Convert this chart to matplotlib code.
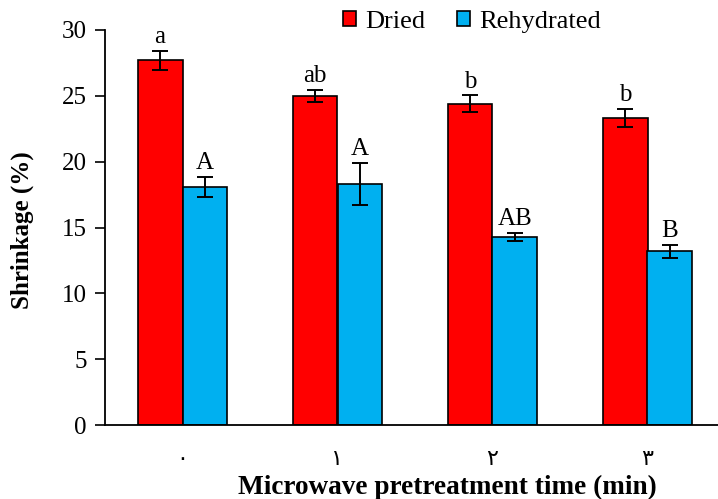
import matplotlib
matplotlib.use("Agg")
import matplotlib.pyplot as plt
import numpy as np

categories = ["٠", "١", "٢", "٣"]
dried = [27.7, 25.0, 24.4, 23.3]
dried_err = [0.7, 0.45, 0.65, 0.7]
rehydrated = [18.1, 18.3, 14.3, 13.2]
rehydrated_err = [0.75, 1.6, 0.3, 0.48]
dried_letters = ["a", "ab", "b", "b"]
rehyd_letters = ["A", "A", "AB", "B"]

plt.rcParams['font.family'] = ['Liberation Serif', 'DejaVu Serif']

W, H = 718, 499
fig = plt.figure(figsize=(W/100, H/100), dpi=100)
ax = fig.add_axes([105/W, 1 - 425/H, 620/W, (425 - 30)/H])

x = np.arange(len(categories))
w = 0.29
ek = dict(ecolor='black', elinewidth=1.4, capsize=5.5, capthick=1.4)
ax.bar(x - w/2, dried, w, yerr=dried_err, color='#FF0000', edgecolor='black',
       linewidth=1.2, label='Dried', error_kw=ek)
ax.bar(x + w/2, rehydrated, w, yerr=rehydrated_err, color='#00B0F0', edgecolor='black',
       linewidth=1.2, label='Rehydrated', error_kw=ek)

for i in range(len(categories)):
    ax.text(x[i] - w/2, dried[i] + dried_err[i] + 0.2, dried_letters[i],
            ha='center', va='bottom', fontsize=18)
    ax.text(x[i] + w/2, rehydrated[i] + rehydrated_err[i] + 0.2, rehyd_letters[i],
            ha='center', va='bottom', fontsize=18)

ax.set_xlim(-0.5, 3.5)
ax.set_ylim(0, 30)
ax.set_yticks([0, 5, 10, 15, 20, 25, 30])
ax.tick_params(axis='y', labelsize=18, direction='out', length=7, width=1.2, pad=6)
ax.set_xticks(x)
ax.set_xticklabels(categories, fontsize=16, family=['DejaVu Sans'])
ax.tick_params(axis='x', length=0, pad=17)
for s in ['top', 'right']:
    ax.spines[s].set_visible(False)
ax.spines['left'].set_linewidth(1.3)
ax.spines['bottom'].set_linewidth(1.3)

fig.text(22/W, 1 - 230/H, 'Shrinkage (%)', fontsize=18, fontweight='bold',
         rotation=90, ha='center', va='center')
fig.text(447/W, 1 - 487/H, 'Microwave pretreatment time (min)', fontsize=19.6,
         fontweight='bold', ha='center', va='center')

leg = fig.legend(loc='center', bbox_to_anchor=(472/W, 1 - 22/H), ncol=2, frameon=False,
                 fontsize=19, handlelength=0.5, handleheight=0.5, handletextpad=0.35,
                 columnspacing=1.2, borderpad=0, borderaxespad=0)

fig.savefig('out.png', dpi=100)
